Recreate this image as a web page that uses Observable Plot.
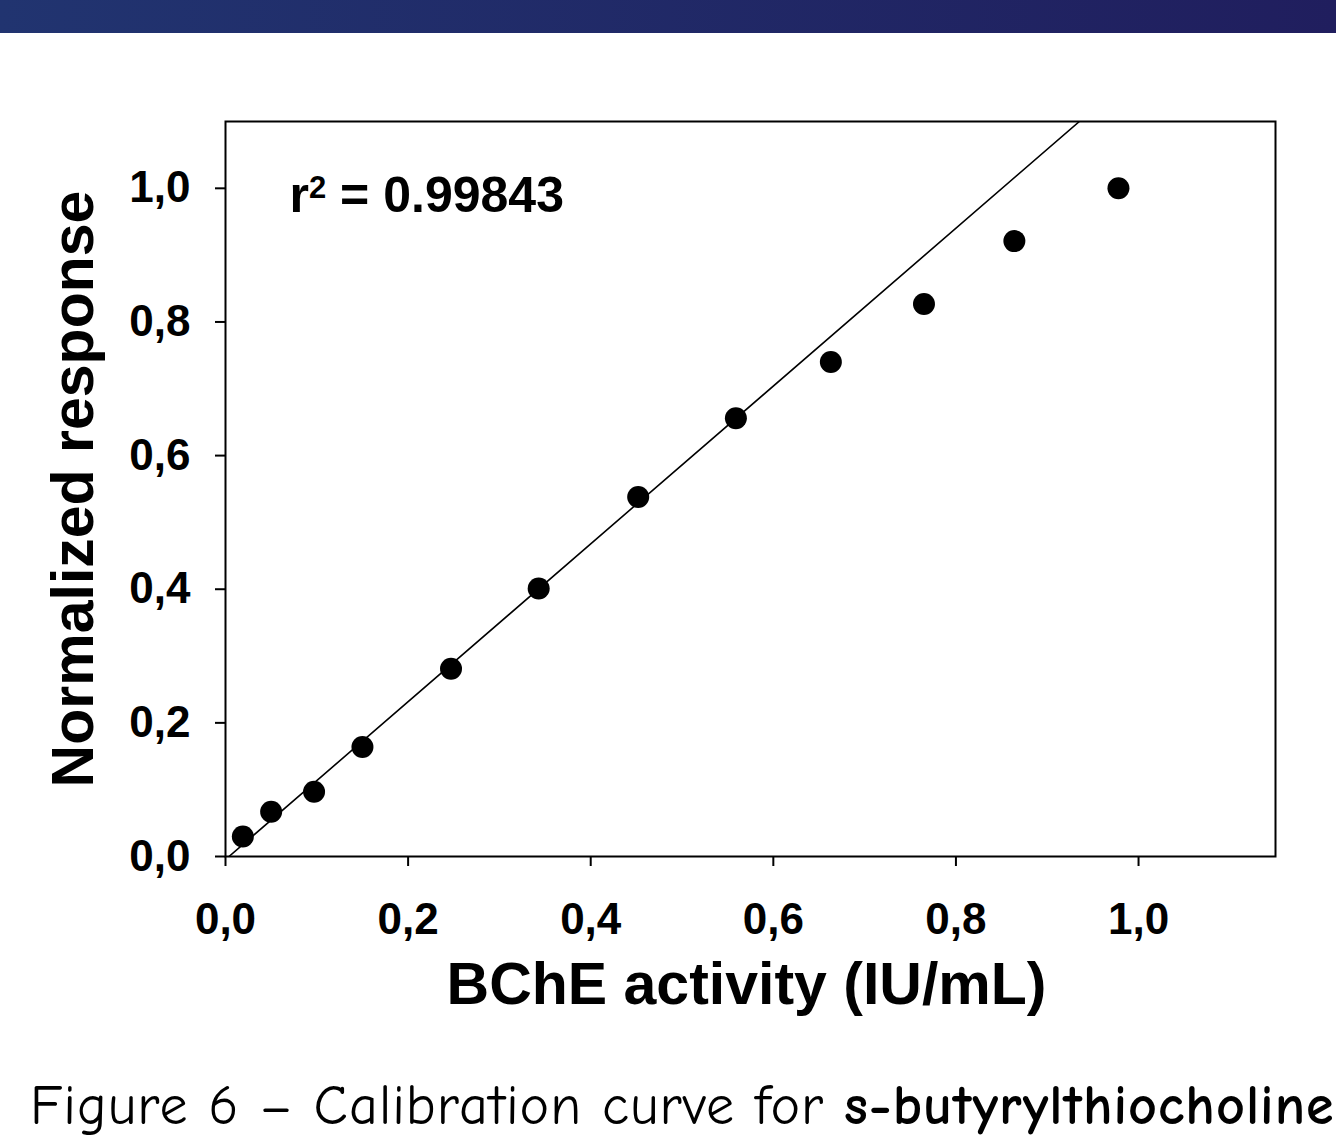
<!DOCTYPE html>
<html>
<head>
<meta charset="utf-8">
<script src="https://cdn.jsdelivr.net/npm/d3@7"></script>
<script src="https://cdn.jsdelivr.net/npm/@observablehq/plot@0.6"></script>
<style>
  html, body { margin: 0; padding: 0; background: #fff; width: 1336px; height: 1136px; overflow: hidden; }
  #band { height: 33px; background: linear-gradient(to right, #213470, #201e5e); }
  #chart svg { display: block; }
  #caption { position: absolute; left: 30px; top: 1078px; white-space: nowrap; line-height: 1;
    font-family: "Comic Sans MS", "Comic Neue", "DejaVu Sans Condensed", "DejaVu Sans", sans-serif;
    font-size: 56px; letter-spacing: 1px; color: #000; }
</style>
</head>
<body>
<div id="band"></div>
<div id="chart"></div>
<div id="caption">Figure 6 – Calibration curve for <b>s-butyrylthiocholine</b></div>
<script>
// Data
const activity = [0.019, 0.050, 0.097, 0.150, 0.247, 0.343, 0.452, 0.559, 0.663, 0.765, 0.864, 0.978];
const response = [0.030, 0.067, 0.097, 0.164, 0.281, 0.401, 0.538, 0.656, 0.740, 0.827, 0.921, 1.000];
const fitSlope = 1.181;
const fitIntercept = -0.0045;
const fitStartX = 0.0038;
const xTicks = [0, 0.2, 0.4, 0.6, 0.8, 1.0];
const yTicks = [0, 0.2, 0.4, 0.6, 0.8, 1.0];
const xTitle = "BChE activity (IU/mL)";
const yTitle = "Normalized response";
const r2Base = "r";
const r2Exponent = "2";
const r2Value = " = 0.99843";

const points = activity.map((x, i) => ({x, y: response[i]}));
const xMax = 1.15, yMax = 1.1;
const fitEndX = (yMax - fitIntercept) / fitSlope;
const fitPts = [fitStartX, fitEndX].map(x => ({x, y: fitIntercept + fitSlope * x}));
const fmt = d => d.toFixed(1).replace(".", ",");

const chart = Plot.plot({
  width: 1336,
  height: 1007,
  marginLeft: 225,
  marginRight: 61,
  marginTop: 88,
  marginBottom: 184,
  style: { fontFamily: "'Liberation Sans', Arial, sans-serif", fontWeight: "bold", fontSize: "44px", color: "#000", background: "#fff" },
  x: { domain: [0, xMax] },
  y: { domain: [0, yMax] },
  marks: [
    Plot.frame({ stroke: "#000", strokeWidth: 2 }),
    Plot.axisX({ ticks: xTicks, tickFormat: fmt, tickSize: 10, tickPadding: 36, strokeWidth: 2, label: null, fontSize: 44 }),
    Plot.axisY({ ticks: yTicks, tickFormat: fmt, tickSize: 10, tickPadding: 25, strokeWidth: 2, label: null, fontSize: 44 }),
    Plot.line(fitPts, { x: "x", y: "y", stroke: "#000", strokeWidth: 1.6, clip: true }),
    Plot.dot(points, { x: "x", y: "y", r: 11, fill: "#000", stroke: "none" }),
    Plot.text([r2Base + r2Exponent + r2Value], { frameAnchor: "top-left", text: d => d, textAnchor: "start", lineAnchor: "middle", dx: 64, dy: 74, fontSize: 50, fontWeight: "bold", fill: "#000", className: "r2label" }),
    Plot.text([xTitle], { frameAnchor: "bottom", text: d => d, textAnchor: "middle", lineAnchor: "middle", dx: -4, dy: 129, fontSize: 59, fontWeight: "bold", fill: "#000" }),
    Plot.text([yTitle], { frameAnchor: "left", text: d => d, textAnchor: "middle", lineAnchor: "middle", rotate: -90, dx: -151, dy: 0, fontSize: 59, fontWeight: "bold", fill: "#000" })
  ]
});
// render the exponent of r² as a superscript
d3.select(chart).selectAll(".r2label text").each(function() {
  const t = d3.select(this);
  t.text(null);
  t.append("tspan").text(r2Base);
  t.append("tspan").attr("dy", "-0.45em").attr("font-size", "0.62em").text(r2Exponent);
  t.append("tspan").attr("dy", "0.28em").text(r2Value);
});
document.getElementById("chart").appendChild(chart);
</script>
</body>
</html>
